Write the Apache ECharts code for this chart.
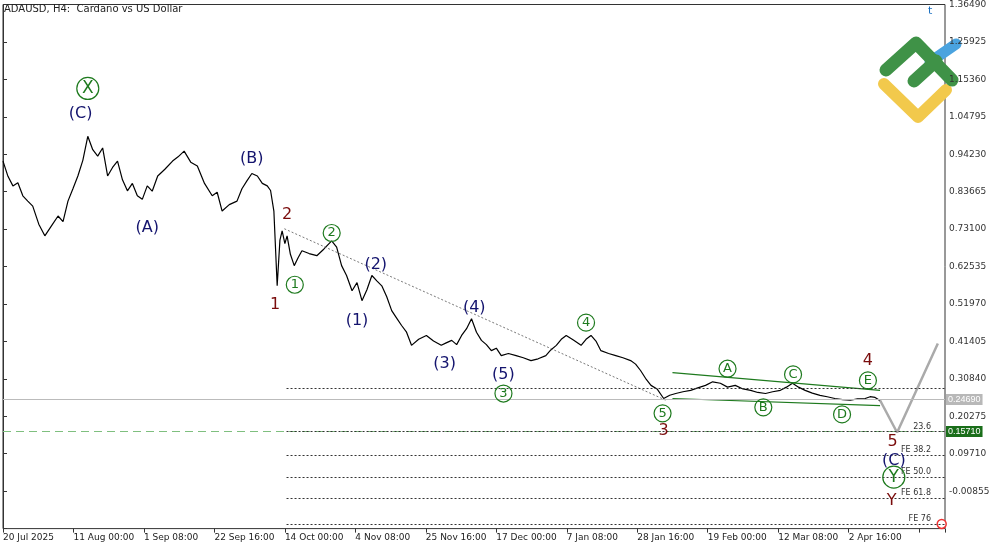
<!DOCTYPE html>
<html><head><meta charset="utf-8">
<script src="https://cdn.jsdelivr.net/npm/echarts@6/dist/echarts.min.js"></script>
<style>html,body{margin:0;background:#fff}#c{width:1000px;height:545px}</style>
</head><body><div id="c"></div>
<script>
// x in H4 bars since 20 Jul 2025, price in USD
var barIdx = [0,9,18,27,36,45,54,65,76,88,100,109,118,127,136,145,154,163,172,181,190,199,208,217,226,235,244,253,262,271,281,294,308,318,329,341,353,366,380,389,398,411,425,434,443,452,462,471,480,486,492,498,503,507,512,516,522,529,536,543,556,570,583,597,606,615,624,634,643,652,661,670,679,688,697,706,715,724,733,742,755,769,782,796,805,815,824,833,842,851,860,869,878,887,896,905,918,932,945,959,972,986,995,1005,1014,1023,1036,1050,1059,1068,1077,1086,1100,1113,1126,1140,1149,1158,1167,1177,1188,1200,1211,1222,1235,1249,1262,1276,1289,1303,1316,1330,1344,1358,1371,1385,1398,1412,1423,1434,1445,1457,1470,1484,1497,1511,1525,1539,1552,1566,1575,1584,1590,1596];
var price = [0.923,0.880,0.853,0.862,0.825,0.810,0.796,0.745,0.712,0.740,0.768,0.752,0.810,0.845,0.881,0.925,0.993,0.955,0.937,0.960,0.881,0.905,0.923,0.870,0.839,0.860,0.825,0.815,0.853,0.838,0.881,0.900,0.923,0.935,0.951,0.920,0.909,0.860,0.825,0.835,0.782,0.800,0.810,0.845,0.867,0.888,0.881,0.860,0.853,0.840,0.782,0.571,0.700,0.726,0.690,0.712,0.660,0.628,0.650,0.670,0.662,0.656,0.675,0.698,0.680,0.628,0.600,0.557,0.580,0.529,0.560,0.600,0.585,0.571,0.540,0.501,0.480,0.459,0.440,0.403,0.420,0.431,0.415,0.403,0.410,0.417,0.405,0.431,0.450,0.478,0.440,0.417,0.405,0.388,0.395,0.374,0.380,0.374,0.368,0.360,0.365,0.374,0.390,0.403,0.420,0.431,0.418,0.403,0.420,0.431,0.415,0.388,0.380,0.374,0.368,0.360,0.350,0.332,0.310,0.290,0.280,0.253,0.262,0.267,0.272,0.276,0.283,0.290,0.300,0.296,0.285,0.290,0.280,0.276,0.270,0.267,0.272,0.276,0.285,0.296,0.285,0.276,0.268,0.262,0.258,0.253,0.250,0.248,0.252,0.253,0.258,0.256,0.250,0.242];
var timeLabels = ['20 Jul 2025','11 Aug 00:00','1 Sep 08:00','22 Sep 16:00','14 Oct 00:00','4 Nov 08:00','25 Nov 16:00','17 Dec 00:00','7 Jan 08:00','28 Jan 16:00','19 Feb 00:00','12 Mar 08:00','2 Apr 16:00'];
var lastPrice = 0.2469, bidLine = 0.1571;
var fibLevels = [0.2810, 0.1595, 0.0928, 0.0310, -0.0286, -0.1010];
var fibNames = ['', '23.6', 'FE 38.2', 'FE 50.0', 'FE 61.8', 'FE 76'];
// wave labels: [bar, price, text, kind]
var waves = [
 [154,1.128,'X','circ'],[141,1.056,'(C)','blue'],[262,0.735,'(A)','blue'],[452,0.929,'(B)','blue'],
 [516,0.771,'2','red'],[494,0.518,'1','red'],[530,0.574,'1','circ'],[597,0.720,'2','circ'],
 [677,0.630,'(2)','blue'],[643,0.473,'(1)','blue'],[802,0.352,'(3)','blue'],[856,0.509,'(4)','blue'],
 [909,0.321,'(5)','blue'],[909,0.267,'3','circ'],[1059,0.467,'4','circ'],[1198,0.211,'5','circ'],
 [1200,0.163,'3','red'],[1316,0.337,'A','circ'],[1381,0.228,'B','circ'],[1435,0.321,'C','circ'],
 [1524,0.208,'D','circ'],[1571,0.304,'E','circ'],[1571,0.360,'4','red'],[1616,0.130,'5','red'],
 [1618,0.076,'(C)','blue'],[1618,0.031,'Y','circ'],[1614,-0.037,'Y','red']
];
var triTop = [[1216,0.326],[1593,0.276]], triBot = [[1216,0.253],[1593,0.233]];
var diag = [[511,0.732],[1204,0.248]];
var proj = [[1593,0.248],[1624,0.157],[1698,0.408]];

var colors = {blue:'#14146e', red:'#7a0c0c', circ:'#1e7a1e'};
var chart = echarts.init(document.getElementById('c'));
var ff = 'DejaVu Sans';
chart.setOption({
  animation:false,
  grid:{left:0, top:3, width:945, height:525.6, show:true, borderColor:'#333', borderWidth:1},
  xAxis:{type:'value', min:0, max:1711, interval:128, axisLine:{show:false, onZero:false},
    axisTick:{show:true, length:4, inside:false, lineStyle:{color:'#333'}},
    splitLine:{show:false},
    axisLabel:{align:'left', margin:5, fontSize:9, fontFamily:ff, color:'#222',
      formatter:function(v){ return timeLabels[Math.round(v/128)] || ''; }}},
  yAxis:{type:'value', position:'right', min:-0.1142, max:1.3649, interval:0.10565,
    axisLine:{show:true, lineStyle:{color:'#333'}}, axisTick:{show:true, length:4, lineStyle:{color:'#333'}},
    splitLine:{show:false},
    axisLabel:{fontSize:9, fontFamily:ff, color:'#333', margin:4,
      formatter:function(v){ return v < -0.1 ? '' : v.toFixed(5); }}},
  graphic:[
    {type:'text', left:4, top:4, style:{text:'ADAUSD, H4:  Cardano vs US Dollar', fontSize:10, fontFamily:ff, fill:'#222'}},
    {type:'text', left:928, top:6, style:{text:'t', fontSize:11, fontFamily:ff, fill:'#1a6fc0'}},
    {type:'polyline', shape:{points:[[884,84],[918,117],[946,90]]}, style:{stroke:'#f2c94c', lineWidth:12, lineCap:'round', lineJoin:'round', fill:null}},
    {type:'line', shape:{x1:930,y1:62,x2:956,y2:44}, style:{stroke:'#4aa3df', lineWidth:11, lineCap:'round'}},
    {type:'polyline', shape:{points:[[886,70],[916,43],[952,80]]}, style:{stroke:'#3f9247', lineWidth:13, lineCap:'round', lineJoin:'round', fill:null}},
    {type:'line', shape:{x1:914,y1:81,x2:936,y2:61}, style:{stroke:'#3f9247', lineWidth:13, lineCap:'round'}}
  ],
  series:[
    {type:'line', data:barIdx.map(function(b,i){return [b,price[i]];}), symbol:'none',
     lineStyle:{color:'#000', width:1.2}, z:3,
     markLine:{silent:true, symbol:'none', label:{show:false}, data:[
       {yAxis:lastPrice, lineStyle:{color:'#bbb', type:'solid', width:1},
        label:{show:true, position:'end', formatter:'0.24690', color:'#fff', backgroundColor:'#b8b8b8', fontSize:9, padding:[1,2], distance:1}},
       {yAxis:bidLine, lineStyle:{color:'#7fbf7f', type:[8,5], width:1.2},
        label:{show:true, position:'end', formatter:'0.15710', color:'#fff', backgroundColor:'#1a6e1a', fontSize:9, padding:[1,2], distance:1}}
     ]}},
    {type:'line', data:fibLevels.map(function(v){return [515,v];}), symbol:'none', lineStyle:{width:0},
     markLine:{silent:true, symbol:'none', data:fibLevels.map(function(v,i){
       return [{coord:[515,v], lineStyle:{color:'#333', type:[2,2], width:1}}, {coord:[1711,v],
        label:{show:!!fibNames[i], position:'insideEndTop', formatter:fibNames[i], fontSize:8, fontFamily:ff, color:'#333', distance:[14,1]}}];
     })}},
    {type:'line', data:diag, symbol:'none', lineStyle:{color:'#555', type:[2,2], width:0.8}},
    {type:'line', data:triTop, symbol:'none', lineStyle:{color:'#1e7a1e', width:1.2}},
    {type:'line', data:triBot, symbol:'none', lineStyle:{color:'#1e7a1e', width:1.2}},
    {type:'line', data:proj, symbol:'none', lineStyle:{color:'#aaa', width:2.5}},
    {type:'scatter', z:5, data:waves.map(function(w){
       var circ = w[3]==='circ';
       return {value:[w[0],w[1]], symbol:'circle', symbolSize:circ?((w[2]==='X'||w[2]==='Y')?22:17):2,
         itemStyle:{color:'rgba(255,255,255,0)', opacity:1, borderColor:colors.circ, borderWidth:circ?1.2:0},
         label:{show:true, position:'inside', formatter:w[2], color:colors[w[3]], fontFamily:ff,
           fontSize:circ?((w[2]==='X'||w[2]==='Y')?17:13):16}};
     })},
    {type:'scatter', data:[[1705,-0.101]], symbol:'circle', symbolSize:9, itemStyle:{color:'#fff', opacity:1, borderColor:'#e33', borderWidth:1.5}}
  ]
});
</script></body></html>
